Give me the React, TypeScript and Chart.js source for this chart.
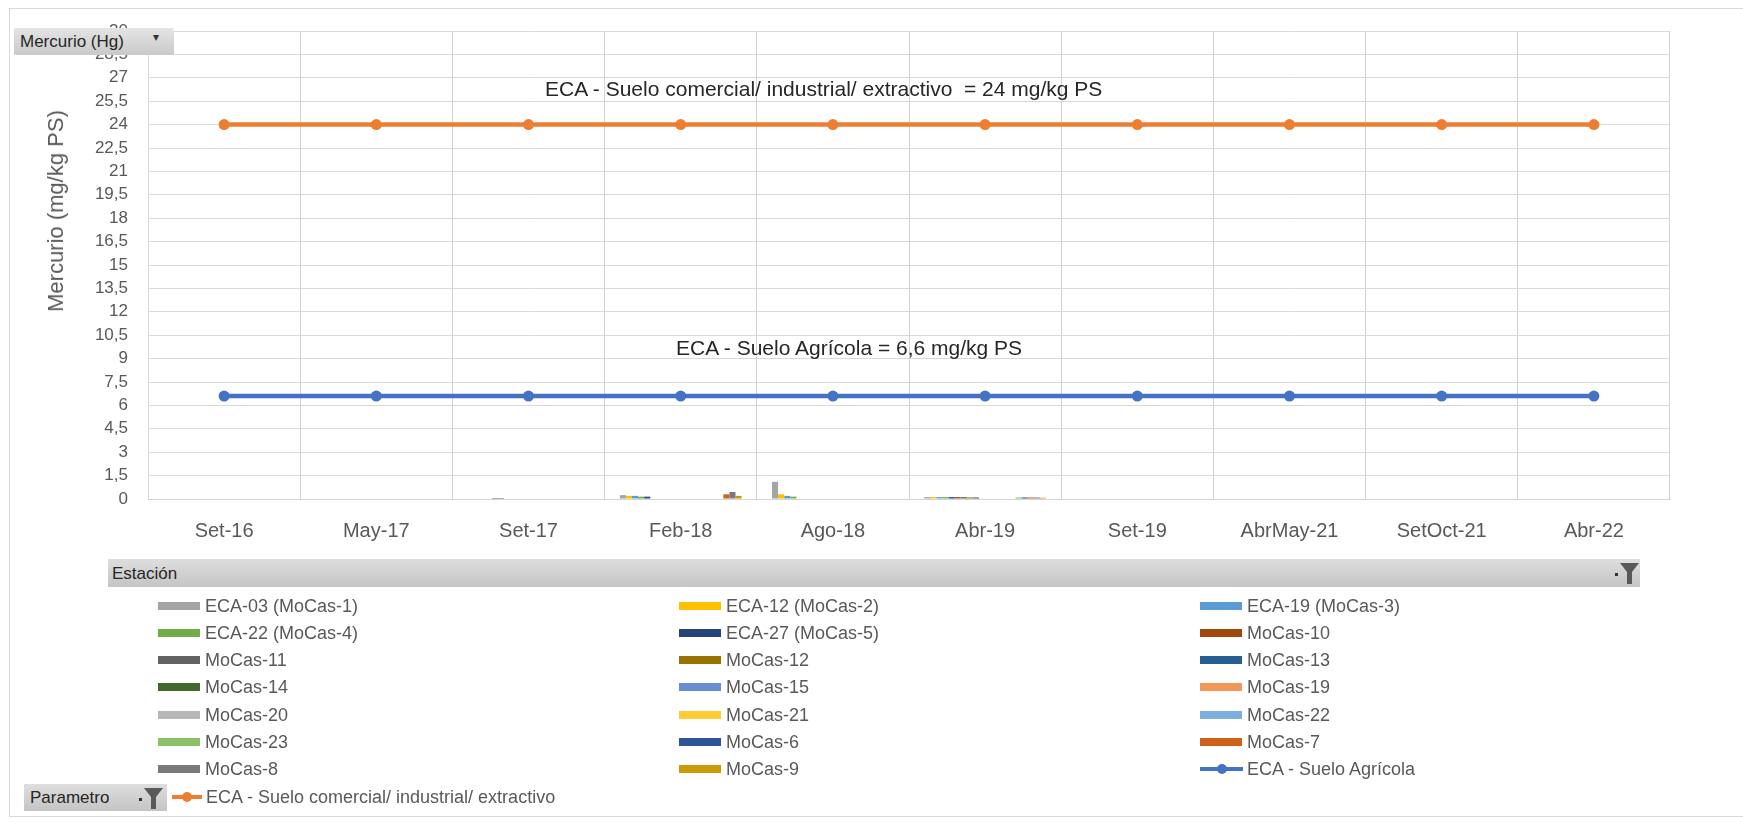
import React, { useEffect, useRef } from "react";
import { Chart, registerables } from "chart.js";

Chart.register(...registerables);

// ---------------- DATA ----------------
const categories = ["Set-16", "May-17", "Set-17", "Feb-18", "Ago-18", "Abr-19", "Set-19", "AbrMay-21", "SetOct-21", "Abr-22"];

const ecaSueloAgricola = [6.6, 6.6, 6.6, 6.6, 6.6, 6.6, 6.6, 6.6, 6.6, 6.6];
const ecaSueloComercial = [24, 24, 24, 24, 24, 24, 24, 24, 24, 24];

const yMin = 0;
const yMax = 30;
const yStep = 1.5;

const N = null;
const eca03 = [N, N, N, 0.25, 1.1, 0.12, N, N, N, N];
const eca12 = [N, N, N, 0.2, 0.3, 0.12, N, N, N, N];
const eca19 = [N, N, N, 0.2, 0.2, 0.12, N, N, N, N];
const eca22 = [N, N, N, 0.15, 0.15, 0.12, N, N, N, N];
const eca27 = [N, N, 0.06, 0.15, N, 0.12, N, N, N, N];
const mocas10 = [N, N, 0.06, N, N, 0.12, N, N, N, N];
const mocas11 = [N, N, N, N, N, 0.12, N, N, N, N];
const mocas12 = [N, N, N, N, N, 0.1, N, N, N, N];
const mocas13 = [N, N, N, N, N, 0.1, N, N, N, N];
const mocas14 = [N, N, N, N, N, N, N, N, N, N];
const mocas15 = [N, N, N, N, N, N, N, N, N, N];
const mocas19 = [N, N, N, N, N, N, N, N, N, N];
const mocas20 = [N, N, N, N, N, N, N, N, N, N];
const mocas21 = [N, N, N, N, N, N, N, N, N, N];
const mocas22 = [N, N, N, N, N, N, N, N, N, N];
const mocas23 = [N, N, N, N, N, 0.1, N, N, N, N];
const mocas6 = [N, N, N, N, N, 0.1, N, N, N, N];
const mocas7 = [N, N, N, 0.3, N, 0.1, N, N, N, N];
const mocas8 = [N, N, N, 0.45, N, 0.1, N, N, N, N];
const mocas9 = [N, N, N, 0.2, N, 0.08, N, N, N, N];

const stationNames = [
  "ECA-03 (MoCas-1)", "ECA-12 (MoCas-2)", "ECA-19 (MoCas-3)", "ECA-22 (MoCas-4)", "ECA-27 (MoCas-5)",
  "MoCas-10", "MoCas-11", "MoCas-12", "MoCas-13", "MoCas-14", "MoCas-15", "MoCas-19", "MoCas-20",
  "MoCas-21", "MoCas-22", "MoCas-23", "MoCas-6", "MoCas-7", "MoCas-8", "MoCas-9",
];
const stationValues = [
  eca03, eca12, eca19, eca22, eca27, mocas10, mocas11, mocas12, mocas13, mocas14,
  mocas15, mocas19, mocas20, mocas21, mocas22, mocas23, mocas6, mocas7, mocas8, mocas9,
];
const stationColors = [
  "#A5A5A5", "#FFC000", "#5B9BD5", "#70AD47", "#264478", "#9E480E", "#636363", "#997300", "#255E91", "#43682B",
  "#698ED0", "#F1975A", "#B7B7B7", "#FFCD33", "#7CAFDD", "#8CC168", "#2F5597", "#D0611A", "#7A7A7A", "#CC9A06",
];

const lineAgricolaName = "ECA - Suelo Agrícola";
const lineComercialName = "ECA - Suelo comercial/ industrial/ extractivo";
const lineAgricolaColor = "#4472C4";
const lineComercialColor = "#ED7D31";

const annotationComercial = "ECA - Suelo comercial/ industrial/ extractivo  = 24 mg/kg PS";
const annotationAgricola = "ECA - Suelo Agrícola = 6,6 mg/kg PS";
const yAxisTitle = "Mercurio (mg/kg PS)";
const parameterButton = "Mercurio (Hg)";
const stationHeader = "Estación";
const parameterHeader = "Parametro";

// ---------------- LAYOUT ----------------
const W = 1743;
const H = 825;
const FONT = "'Liberation Sans', Arial, sans-serif";

function Funnel({ x, y }: { x: number; y: number }) {
  return (
    <svg style={{ position: "absolute", left: x, top: y }} width={26} height={26} viewBox="0 0 26 26">
      <rect x={1} y={13} width={3} height={3} fill="#333" />
      <polygon points="6,3 25,3 18,12 18,24 13,24 13,12" fill="#595959" />
    </svg>
  );
}

function LegendSwatch({ color }: { color: string }) {
  return <div style={{ position: "absolute", left: 0, top: -4, width: 42, height: 8, background: color }} />;
}

function LegendLine({ color, width }: { color: string; width: number }) {
  return (
    <div style={{ position: "absolute", left: 0, top: 0 }}>
      <div style={{ position: "absolute", left: 0, top: -2, width, height: 4, background: color }} />
      <div style={{ position: "absolute", left: width / 2 - 5, top: -5, width: 10, height: 10, borderRadius: 5, background: color }} />
    </div>
  );
}

export default function App() {
  const canvasRef = useRef<HTMLCanvasElement | null>(null);

  useEffect(() => {
    document.body.style.margin = "0";
    const canvas = canvasRef.current;
    if (!canvas) return;
    const fmt = (v: number) => {
      const r = Math.round(v * 10) / 10;
      return String(r).replace(".", ",");
    };
    const barSets = stationNames.map((name, i) => ({
      type: "bar" as const,
      label: name,
      data: stationValues[i],
      backgroundColor: stationColors[i],
      borderWidth: 0,
      categoryPercentage: 0.8,
      barPercentage: 1,
      order: 2,
    }));
    const chart = new Chart(canvas, {
      type: "bar",
      data: {
        labels: categories,
        datasets: [
          ...barSets,
          {
            type: "line",
            label: lineAgricolaName,
            data: ecaSueloAgricola,
            borderColor: lineAgricolaColor,
            backgroundColor: lineAgricolaColor,
            borderWidth: 4.5,
            pointRadius: 5.5,
            pointBorderWidth: 0,
            pointBackgroundColor: lineAgricolaColor,
            order: 0,
          } as any,
          {
            type: "line",
            label: lineComercialName,
            data: ecaSueloComercial,
            borderColor: lineComercialColor,
            backgroundColor: lineComercialColor,
            borderWidth: 4.5,
            pointRadius: 5.5,
            pointBorderWidth: 0,
            pointBackgroundColor: lineComercialColor,
            order: 0,
          } as any,
        ],
      },
      options: {
        responsive: false,
        animation: false,
        layout: { padding: { left: 0, top: 31, right: 73, bottom: 0 } },
        plugins: { legend: { display: false }, tooltip: { enabled: false } },
        scales: {
          x: {
            offset: true,
            grid: { offset: true, color: "#d4d4d4", drawTicks: false },
            border: { color: "#d4d4d4" },
            ticks: {
              padding: 20,
              color: "#595959",
              font: { family: FONT, size: 20 },
              maxRotation: 0,
              autoSkip: false,
            },
            afterFit: (s: any) => {
              s.height = H - 499;
            },
          },
          y: {
            min: yMin,
            max: yMax,
            grid: { color: "#d9d9d9", drawTicks: false },
            border: { color: "#d9d9d9" },
            ticks: {
              stepSize: yStep,
              padding: 20,
              color: "#595959",
              font: { family: FONT, size: 17 },
              callback: (v: any) => fmt(Number(v)),
            },
            afterFit: (s: any) => {
              s.width = 148;
            },
          },
        },
      } as any,
    });
    return () => chart.destroy();
  }, []);

  const colX = [158, 679, 1200];
  const rowY = [606, 632.5, 659.5, 687, 714.5, 741.5, 769];
  const legendItems: { name: string; color: string; line?: boolean }[] = [
    ...stationNames.map((n, i) => ({ name: n, color: stationColors[i] })),
    { name: lineAgricolaName, color: lineAgricolaColor, line: true },
  ];

  const textStyle: React.CSSProperties = {
    position: "absolute",
    fontFamily: FONT,
    fontSize: 18,
    color: "#595959",
    whiteSpace: "nowrap",
    lineHeight: "20px",
  };

  return (
    <div style={{ position: "absolute", left: 0, top: 0, width: W, height: H, background: "#fff", overflow: "hidden" }}>
      {/* outer border */}
      <div style={{ position: "absolute", left: 9, top: 8, width: W, height: 807, border: "1px solid #d9d9d9" }} />
      <canvas ref={canvasRef} width={W} height={H} style={{ position: "absolute", left: 0, top: 0, width: W, height: H }} />

      {/* parameter button */}
      <div
        style={{
          position: "absolute",
          left: 14,
          top: 28,
          width: 160,
          height: 27,
          background: "linear-gradient(#e4e4e4, #c9c9c9)",
          borderRadius: 2,
        }}
      >
        <span style={{ position: "absolute", left: 6, top: 4, fontFamily: FONT, fontSize: 17, color: "#262626", whiteSpace: "nowrap" }}>
          {parameterButton}
        </span>
        <span style={{ position: "absolute", left: 139, top: 2, fontFamily: FONT, fontSize: 12, color: "#333" }}>▾</span>
      </div>

      {/* y axis title */}
      <div
        style={{
          position: "absolute",
          left: 56,
          top: 211,
          transform: "translate(-50%, -50%) rotate(-90deg)",
          fontFamily: FONT,
          fontSize: 22,
          color: "#595959",
          whiteSpace: "nowrap",
        }}
      >
        {yAxisTitle}
      </div>

      {/* annotations */}
      <div style={{ position: "absolute", left: 545, top: 77, fontFamily: FONT, fontSize: 21, color: "#262626", whiteSpace: "pre" }}>
        {annotationComercial}
      </div>
      <div style={{ position: "absolute", left: 676, top: 336, fontFamily: FONT, fontSize: 21, color: "#262626", whiteSpace: "pre" }}>
        {annotationAgricola}
      </div>

      {/* station header bar */}
      <div
        style={{
          position: "absolute",
          left: 108,
          top: 559,
          width: 1532,
          height: 28,
          background: "linear-gradient(#dedede, #c4c4c4)",
        }}
      >
        <span style={{ position: "absolute", left: 4, top: 5, fontFamily: FONT, fontSize: 17, color: "#262626" }}>{stationHeader}</span>
        <Funnel x={1506} y={1} />
      </div>

      {/* legend */}
      {legendItems.map((it, i) => {
        const c = i % 3;
        const r = Math.floor(i / 3);
        return (
          <div key={it.name} style={{ position: "absolute", left: colX[c], top: rowY[r] }}>
            {it.line ? <LegendLine color={it.color} width={43} /> : <LegendSwatch color={it.color} />}
            <span style={{ ...textStyle, left: 47, top: -10 }}>{it.name}</span>
          </div>
        );
      })}

      {/* parametro button + comercial legend */}
      <div
        style={{
          position: "absolute",
          left: 24,
          top: 784,
          width: 143,
          height: 27,
          background: "linear-gradient(#dedede, #c4c4c4)",
        }}
      >
        <span style={{ position: "absolute", left: 6, top: 4, fontFamily: FONT, fontSize: 17, color: "#262626" }}>{parameterHeader}</span>
        <Funnel x={114} y={1} />
      </div>
      <div style={{ position: "absolute", left: 172, top: 797 }}>
        <LegendLine color={lineComercialColor} width={30} />
        <span style={{ ...textStyle, left: 34, top: -10 }}>{lineComercialName}</span>
      </div>
    </div>
  );
}
